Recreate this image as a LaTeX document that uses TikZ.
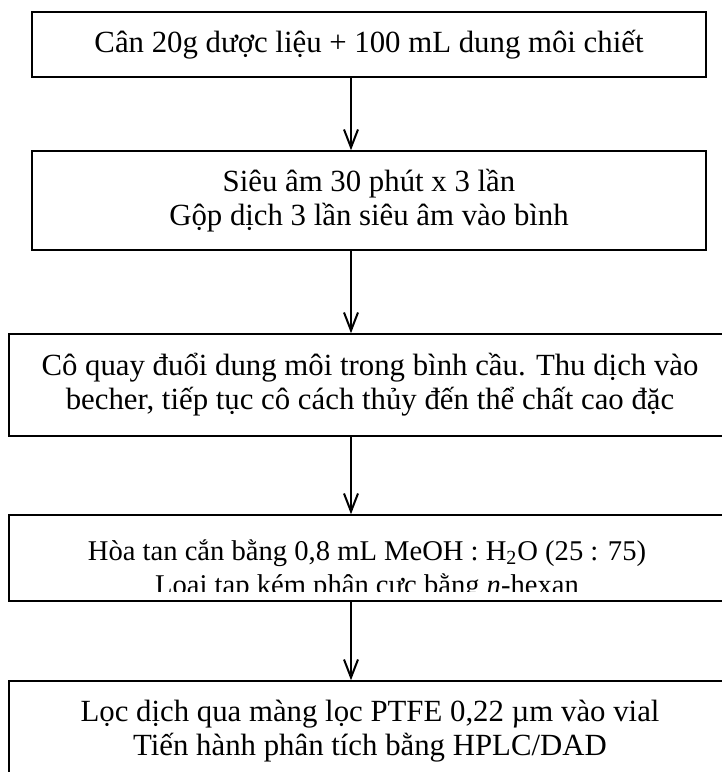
\documentclass[tikz,border=0pt]{standalone}
\usepackage{fontspec}
\setmainfont{Liberation Serif}
\usetikzlibrary{arrows.meta}

\begin{document}
\begin{tikzpicture}[x=0.5pt,y=-0.5pt,
   box/.style={draw,line width=0.75pt,align=center,inner sep=0pt},
   txt/.style={align=center,inner sep=0pt},
   flow/.style={-{Straight Barb[length=9pt,width=7pt]},line width=1pt},
   font=\fontsize{15.4pt}{17pt}\selectfont]
  \clip (0,0) rectangle (722,772);
  \node[box,minimum width=337pt,minimum height=32.5pt] (s1) at (369,44.5)
    {Cân 20g dược liệu + 100 mL dung môi chiết};
  \node[box,minimum width=337pt,minimum height=49.5pt] (s2) at (369,200.5)
    {Siêu âm 30 phút x 3 lần\\Gộp dịch 3 lần siêu âm vào bình};
  \node[box,minimum width=361pt,minimum height=51pt] (s3) at (370,385)
    {Cô quay đuổi dung môi trong bình cầu. Thu dịch vào\\becher, tiếp tục cô cách thủy đến thể chất cao đặc};
  \node[box,minimum width=361pt,minimum height=43pt] (s4) at (370,558) {};
  % text of this box is cut at its last baseline
  \begin{scope}
    \clip (0,515) rectangle (722,591);
    \node[txt,font=\fontsize{14.3pt}{17pt}\selectfont] (t4) at (367,570)
      {Hòa tan cắn bằng 0,8 mL MeOH : H\textsubscript{2}O (25 : 75)\\Loại tạp kém phân cực bằng \textit{n}-hexan};
  \end{scope}
  \node[box,minimum width=361pt,minimum height=50pt] (s5) at (370,731)
    {Lọc dịch qua màng lọc PTFE 0,22 µm vào vial\\Tiến hành phân tích bằng HPLC/DAD};
  \coordinate (ax) at (351,0);
  \foreach \a/\b in {s1/s2,s2/s3,s3/s4,s4/s5}
    \draw[flow] (\a.south -| ax) -- (\b.north -| ax);
\end{tikzpicture}
\end{document}
